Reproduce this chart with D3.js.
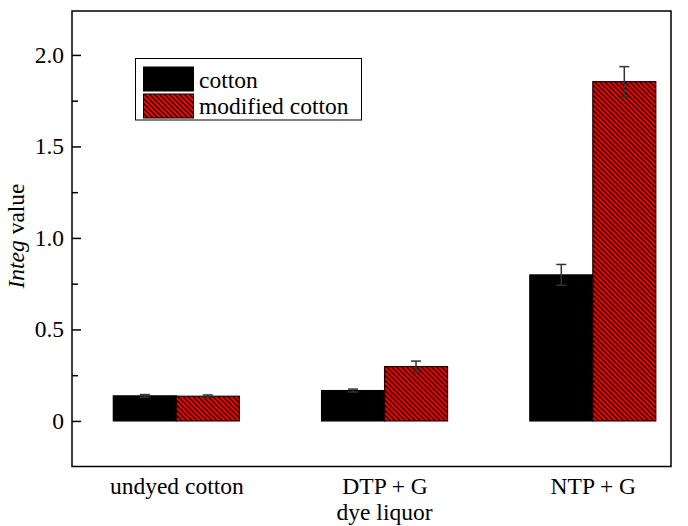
<!DOCTYPE html>
<html>
<head>
<meta charset="utf-8">
<script src="https://cdn.jsdelivr.net/npm/d3@7"></script>
<style>
  html, body { margin: 0; padding: 0; background: #fff; }
</style>
</head>
<body>
<svg id="chart" width="688" height="526"></svg>
<script>
// Integ values per dye liquor, with standard errors
const categories = ["undyed cotton", "DTP + G", "NTP + G"];
const seriesNames = ["cotton", "modified cotton"];
const cottonValues = [0.137, 0.166, 0.798];
const cottonErrors = [0.007, 0.008, 0.057];
const modifiedValues = [0.135, 0.297, 1.854];
const modifiedErrors = [0.007, 0.030, 0.082];
const yTickValues = [0, 0.5, 1.0, 1.5, 2.0];
const yTickLabels = ["0", "0.5", "1.0", "1.5", "2.0"];

const serif = "'Liberation Serif', 'Times New Roman', Times, serif";
const fontSize = 23.5;

const rows = categories.map((c, i) => ({
  category: c,
  bars: [
    { series: seriesNames[0], value: cottonValues[i], err: cottonErrors[i] },
    { series: seriesNames[1], value: modifiedValues[i], err: modifiedErrors[i] }
  ]
}));

const svg = d3.select("#chart");
const plotLeft = 72, plotRight = 671, plotTop = 11, plotBottom = 466.5;

// pixel-aligned diagonal hatch (top-left to bottom-right) for the modified cotton bars
const hatchStep = 5;
const defs = svg.append("defs");
const pat = defs.append("pattern")
  .attr("id", "hatch")
  .attr("patternUnits", "userSpaceOnUse")
  .attr("width", hatchStep).attr("height", hatchStep);
pat.append("rect").attr("width", hatchStep).attr("height", hatchStep).attr("fill", "#ff0000");
pat.append("path")
  .attr("d", `M-1,-1 L${hatchStep + 1},${hatchStep + 1} M-1,${hatchStep - 1} L1,${hatchStep + 1} M${hatchStep - 1},-1 L${hatchStep + 1},1`)
  .attr("stroke", "#000").attr("stroke-width", 1.3);

const fills = { "cotton": "#000", "modified cotton": "url(#hatch)" };

const x = d3.scalePoint().domain(categories).range([176.3, 592.8]);
const xInner = d3.scaleBand().domain(seriesNames).range([-63, 63]).padding(0);
const y = d3.scaleLinear().domain([-0.249, 2.24]).range([plotBottom, plotTop]);

// bars
const groups = svg.append("g").selectAll("g").data(rows).join("g")
  .attr("transform", d => `translate(${x(d.category)},0)`);

groups.selectAll("rect").data(d => d.bars).join("rect")
  .attr("x", d => xInner(d.series))
  .attr("width", xInner.bandwidth())
  .attr("y", d => y(d.value))
  .attr("height", d => y(0) - y(d.value))
  .attr("fill", d => fills[d.series])
  .attr("stroke", d => d.series === "cotton" ? "#000" : "#220000")
  .attr("stroke-width", 1.2);

// error bars
const eb = groups.selectAll("g.err").data(d => d.bars).join("g").attr("class", "err")
  .attr("stroke", "#333").attr("stroke-width", 1.5);
const cx = d => xInner(d.series) + xInner.bandwidth() / 2;
eb.append("line").attr("x1", cx).attr("x2", cx)
  .attr("y1", d => y(d.value + d.err)).attr("y2", d => y(d.value - d.err));
eb.append("line").attr("x1", d => cx(d) - 5).attr("x2", d => cx(d) + 5)
  .attr("y1", d => y(d.value + d.err)).attr("y2", d => y(d.value + d.err));
eb.append("line").attr("x1", d => cx(d) - 5).attr("x2", d => cx(d) + 5)
  .attr("y1", d => y(d.value - d.err)).attr("y2", d => y(d.value - d.err));

// frame
svg.append("rect").attr("x", plotLeft).attr("y", plotTop)
  .attr("width", plotRight - plotLeft).attr("height", plotBottom - plotTop)
  .attr("fill", "none").attr("stroke", "#000").attr("stroke-width", 1.5);

// y axis with inward ticks
const yAxis = d3.axisLeft(y).tickValues(yTickValues)
  .tickFormat((d, i) => yTickLabels[i]).tickSizeInner(-9).tickSizeOuter(0).tickPadding(8);
const ya = svg.append("g").attr("transform", `translate(${plotLeft},0)`).call(yAxis)
  .attr("font-family", serif).attr("font-size", fontSize);
ya.select(".domain").remove();
ya.selectAll(".tick line").attr("stroke", "#000").attr("stroke-width", 1.5);
ya.selectAll("text").attr("fill", "#000");

const minor = d3.axisLeft(y).tickValues([0.25, 0.75, 1.25, 1.75]).tickFormat("").tickSizeInner(-6).tickSizeOuter(0);
const ym = svg.append("g").attr("transform", `translate(${plotLeft},0)`).call(minor);
ym.select(".domain").remove();
ym.selectAll(".tick line").attr("stroke", "#000").attr("stroke-width", 1.5);

// x axis labels
const xAxis = d3.axisBottom(x).tickSize(0).tickPadding(11);
const xa = svg.append("g").attr("transform", `translate(0,${plotBottom})`).call(xAxis)
  .attr("font-family", serif).attr("font-size", fontSize);
xa.select(".domain").remove();
xa.selectAll("text").attr("fill", "#000");

// axis titles
svg.append("text").attr("x", x(categories[1])).attr("y", 520)
  .attr("text-anchor", "middle").attr("font-family", serif).attr("font-size", fontSize)
  .text("dye liquor");

const yt = svg.append("text").attr("transform", "translate(24,236) rotate(-90)")
  .attr("text-anchor", "middle").attr("font-family", serif).attr("font-size", fontSize);
yt.append("tspan").attr("font-style", "italic").text("Integ");
yt.append("tspan").text(" value");

// legend
const lg = svg.append("g");
lg.append("rect").attr("x", 135.5).attr("y", 58.5).attr("width", 226).attr("height", 61.5)
  .attr("fill", "#fff").attr("stroke", "#000").attr("stroke-width", 1);
seriesNames.forEach((s, i) => {
  lg.append("rect").attr("x", 143.5).attr("y", 67 + i * 27).attr("width", 50).attr("height", 24)
    .attr("fill", fills[s]).attr("stroke", "#000").attr("stroke-width", 1);
  lg.append("text").attr("x", 199).attr("y", 88 + i * 26)
    .attr("font-family", serif).attr("font-size", fontSize).text(s);
});
</script>
</body>
</html>
